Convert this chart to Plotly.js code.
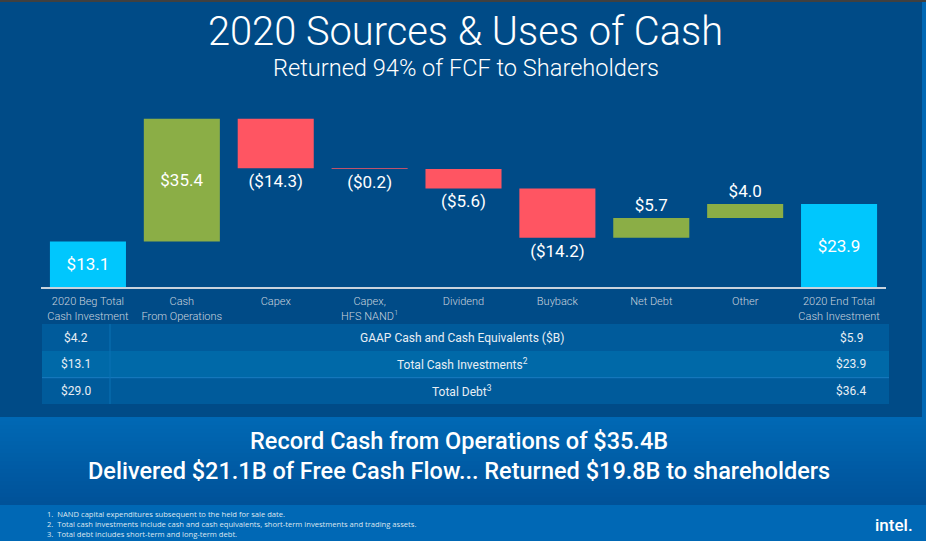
<!DOCTYPE html>
<html>
<head>
<meta charset="utf-8">
<script src="https://cdn.plot.ly/plotly-3.0.1.min.js"></script>
<style>html,body{margin:0;padding:0;background:#004B87;}#chart{width:926px;height:541px;}</style>
</head>
<body>
<div id="chart"></div>
<script>
// ---- data ----
const categories = ["2020 Beg Total<br>Cash Investment", "Cash<br>From Operations", "Capex", "Capex,<br>HFS NAND<sup>1</sup>", "Dividend", "Buyback", "Net Debt", "Other", "2020 End Total<br>Cash Investment"];
const values = [13.1, 35.4, -14.3, -0.2, -5.6, -14.2, 5.7, 4.0, 23.9];
const measures = ["absolute", "relative", "relative", "relative", "relative", "relative", "relative", "relative", "total"];
const barLabels = ["$13.1", "$35.4", "($14.3)", "($0.2)", "($5.6)", "($14.2)", "$5.7", "$4.0", "$23.9"];
const labelPlacement = ["inside", "inside", "outside", "outside", "outside", "outside", "outside", "outside", "inside"];
const tableRows = ["GAAP Cash and Cash Equivalents ($B)", "Total Cash Investments<sup>2</sup>", "Total Debt<sup>3</sup>"];
const begValues = ["$4.2", "$13.1", "$29.0"];
const endValues = ["$5.9", "$23.9", "$36.4"];
const headlines = ["Record Cash from Operations of $35.4B", "Delivered $21.1B of Free Cash Flow... Returned $19.8B to shareholders"];
const footnotes = ["1.  NAND capital expenditures subsequent to the held for sale date.", "2.  Total cash investments include cash and cash equivalents, short-term investments and trading assets.", "3.  Total debt includes short-term and long-term debt."];
const titleText = "2020 Sources &amp; Uses of Cash";
const subtitleText = "Returned 94% of FCF to Shareholders";

// ---- layout geometry (pixels) ----
const L = 41, R = 886, T = 100, B = 287;
const W = R - L, H = B - T;
const px = p => (p - L) / W;
const py = p => (B - p) / H;

const shapes = [];
const annotations = [];
function rect(x0, y0, x1, y1, color) {
  shapes.push({type: "rect", xref: "paper", yref: "paper", x0: px(x0), x1: px(x1), y0: py(y1), y1: py(y0),
    fillcolor: color, line: {width: 0}, layer: "below"});
}
function hline(x0, x1, y, color, w) {
  shapes.push({type: "line", xref: "paper", yref: "paper", x0: px(x0), x1: px(x1), y0: py(y), y1: py(y),
    line: {color: color, width: w}, layer: "below"});
}
function vline(x, y0, y1, color, w) {
  shapes.push({type: "line", xref: "paper", yref: "paper", x0: px(x), x1: px(x), y0: py(y0), y1: py(y1),
    line: {color: color, width: w}, layer: "below"});
}
function text(t, x, y, font, opts) {
  annotations.push(Object.assign({text: t, xref: "paper", yref: "paper", x: px(x), y: py(y),
    showarrow: false, xanchor: "center", yanchor: "middle", font: font}, opts || {}));
}

// top strip and right strip
rect(0, 0, 926, 2, "#404040");
rect(922, 2, 926, 417, "#0068B5");

// table
const rowTop = [324, 351, 377.7], rowBot = [351, 377.7, 404];
const rowColors = ["#005B9B", "#0069A8", "#005B9B"];
for (let i = 0; i < tableRows.length; i++) {
  rect(42, rowTop[i], 889, rowBot[i], rowColors[i]);
}
hline(42, 889, 377.7, "#1A7DC2", 1);
vline(110, 324, 404, "#0A72B4", 1);
const tableFont = {family: "Roboto, sans-serif", size: 12, color: "#E8EEF4", weight: 400};
for (let i = 0; i < tableRows.length; i++) {
  const yc = (rowTop[i] + rowBot[i]) / 2;
  text(begValues[i], 76, yc, tableFont);
  text(tableRows[i], 462, yc, tableFont);
  text(endValues[i], 851, yc, tableFont);
}

// gradient headline band
const bandTop = 417, bandBot = 505, steps = 22;
const c0 = [0, 104, 180], c1 = [0, 82, 153];
for (let s = 0; s < steps; s++) {
  const f = s / (steps - 1);
  const c = c0.map((v, k) => Math.round(v + (c1[k] - v) * f));
  const y0 = bandTop + (bandBot - bandTop) * s / steps;
  const y1 = bandTop + (bandBot - bandTop) * (s + 1) / steps + 0.5;
  rect(0, y0, 926, y1, `rgb(${c[0]},${c[1]},${c[2]})`);
}
// footnote area
rect(0, 505, 926, 541, "#0068B5");

// headlines
const headFont = {family: "Roboto, sans-serif", size: 23.5, color: "#FFFFFF", weight: 500};
text(headlines[0], 459, 441, headFont);
text(headlines[1], 459, 471, headFont);

// footnotes (one block, left aligned)
const fnFont = {family: "'Open Sans', sans-serif", size: 7.6, color: "#DCE6F0"};
text(footnotes.join("<br>"), 45, 523.5, fnFont, {xanchor: "left", align: "left"});

// logo
text("intel.", 894, 525, {family: "Roboto, sans-serif", size: 17, color: "#FFFFFF", weight: 500});

// subtitle
text(subtitleText, 465.5, 68, {family: "Roboto, sans-serif", size: 23.6, color: "#FFFFFF", weight: 300});

const barFont = {family: "Roboto, sans-serif", size: 17, color: "#FFFFFF"};
const trace = {
  type: "waterfall",
  x: categories,
  y: values,
  measure: measures,
  text: barLabels,
  textposition: labelPlacement,
  textinfo: "text",
  insidetextanchor: "middle",
  textfont: barFont,
  insidetextfont: barFont,
  outsidetextfont: barFont,
  constraintext: "none",
  cliponaxis: false,
  increasing: {marker: {color: "#8BAE46"}},
  decreasing: {marker: {color: "#FF5562"}},
  totals: {marker: {color: "#00C7FD"}},
  connector: {visible: false},
  hoverinfo: "skip"
};

const layout = {
  width: 926, height: 541,
  margin: {l: L, r: 926 - R, t: T, b: 541 - B, pad: 0},
  paper_bgcolor: "#004B87",
  plot_bgcolor: "rgba(0,0,0,0)",
  showlegend: false,
  waterfallgap: 0.19,
  title: {
    text: titleText, x: 465.5 / 926, xanchor: "center", xref: "container",
    y: 1 - 31 / 541, yanchor: "middle", yref: "container",
    font: {family: "Roboto, sans-serif", size: 39.8, color: "#FFFFFF", weight: 300}
  },
  xaxis: {
    type: "category", range: [-0.5, 8.5], fixedrange: true,
    showline: true, linecolor: "#C9D3DE", linewidth: 2,
    showgrid: false, zeroline: false,
    ticks: "outside", ticklen: 3, tickcolor: "rgba(0,0,0,0)",
    tickfont: {family: "Roboto, sans-serif", size: 11, color: "#C9D3DE", weight: 300}
  },
  yaxis: {
    range: [0, 53.9], fixedrange: true, visible: false, showgrid: false, zeroline: false
  },
  shapes: shapes,
  annotations: annotations
};

Plotly.newPlot("chart", [trace], layout, {displayModeBar: false, staticPlot: true});
</script>
</body>
</html>
